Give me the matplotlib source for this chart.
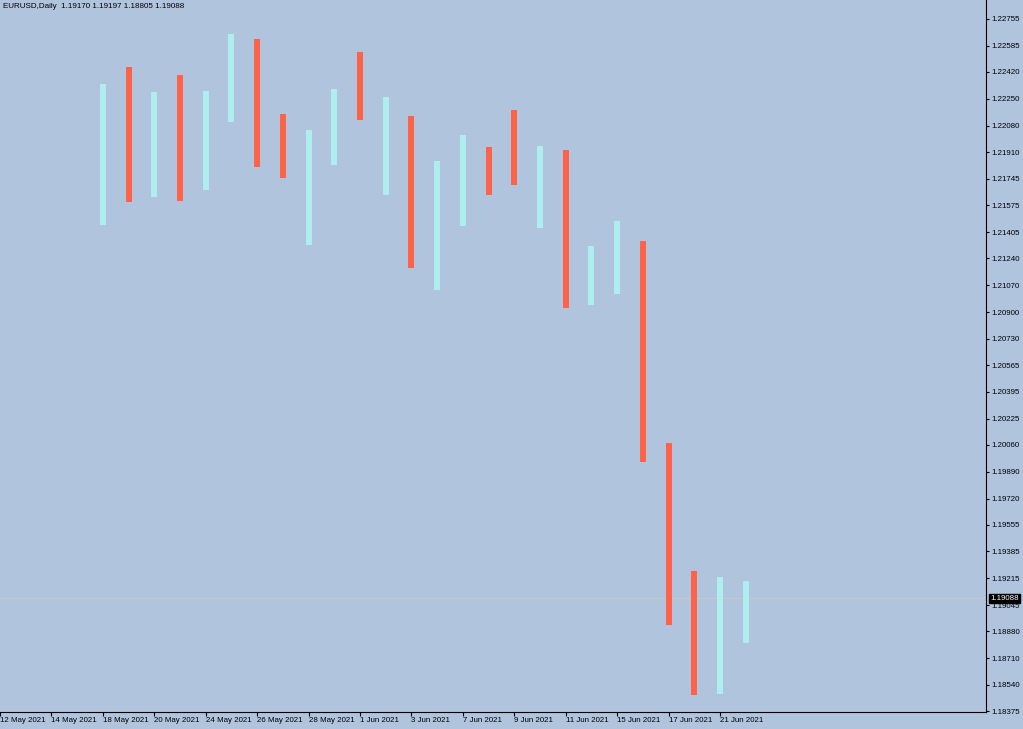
import matplotlib
matplotlib.use("Agg")
import matplotlib.pyplot as plt

# daily EURUSD bars (high/low), 18 May .. 22 Jun 2021
dates = ["18 May", "19 May", "20 May", "21 May", "24 May", "25 May", "26 May", "27 May",
         "28 May", "31 May", "1 Jun", "2 Jun", "3 Jun", "4 Jun", "7 Jun", "8 Jun",
         "9 Jun", "10 Jun", "11 Jun", "14 Jun", "15 Jun", "16 Jun", "17 Jun", "18 Jun",
         "21 Jun", "22 Jun"]
highs = [1.22342, 1.22453, 1.22291, 1.22399, 1.22299, 1.22660, 1.22627, 1.22154,
         1.22052, 1.22312, 1.22546, 1.22263, 1.22141, 1.21856, 1.22019, 1.21945,
         1.22179, 1.21949, 1.21926, 1.21318, 1.21476, 1.21350, 1.20069, 1.19259,
         1.19223, 1.19197]
lows = [1.21451, 1.21597, 1.21628, 1.21603, 1.21675, 1.22101, 1.21818, 1.21751,
        1.21325, 1.21831, 1.22118, 1.21639, 1.21181, 1.21038, 1.21447, 1.21639,
        1.21706, 1.21430, 1.20926, 1.20945, 1.21014, 1.19953, 1.18919, 1.18476,
        1.18483, 1.18805]
# True = bullish (cyan), False = bearish (red)
bull = [True, False, True, False, True, True, False, False, True, True, False, True,
        False, True, True, False, False, True, False, True, True, False, False, False,
        True, True]

# x positions: 12 May 2021 is index 0, the shown bars start at index 4
bar_x = list(range(4, 4 + len(dates)))
xtick_pos = [0, 2, 4, 6, 8, 10, 12, 14, 16, 18, 20, 22, 24, 26, 28]
xtick_labels = ["12 May 2021", "14 May 2021", "18 May 2021", "20 May 2021", "24 May 2021",
                "26 May 2021", "28 May 2021", "1 Jun 2021", "3 Jun 2021", "7 Jun 2021",
                "9 Jun 2021", "11 Jun 2021", "15 Jun 2021", "17 Jun 2021", "21 Jun 2021"]
ytick_labels = ["1.22755", "1.22585", "1.22420", "1.22250", "1.22080", "1.21910", "1.21745",
                "1.21575", "1.21405", "1.21240", "1.21070", "1.20900", "1.20730", "1.20565",
                "1.20395", "1.20225", "1.20060", "1.19890", "1.19720", "1.19555", "1.19385",
                "1.19215", "1.19045", "1.18880", "1.18710", "1.18540", "1.18375"]
last_price = 1.19088
title = "EURUSD,Daily  1.19170 1.19197 1.18805 1.19088"

bg = "#B0C4DE"
up_col = "#AFEEEE"
down_col = "#FF6347"

plt.rcParams['font.family'] = ['Liberation Sans', 'DejaVu Sans']

fig = plt.figure(figsize=(10.23, 7.29), dpi=100, facecolor=bg)
ax = fig.add_axes([0, 1 - 712 / 729, 986 / 1023, 712 / 729])
ax.set_facecolor(bg)

colors = [up_col if b else down_col for b in bull]
ax.vlines(bar_x, lows, highs, colors=colors, linewidth=4.3)

# current price line
ax.axhline(last_price, color="#C8C8C8", linewidth=0.8, zorder=0)

ax.set_xlim(0.025, 38.34)
ax.set_ylim(1.18369, 1.22875)

ax.spines['top'].set_visible(False)
ax.spines['left'].set_visible(False)
ax.spines['right'].set_color('black')
ax.spines['bottom'].set_color('black')

ax.yaxis.tick_right()
ax.set_yticks([float(v) for v in ytick_labels])
ax.set_yticklabels(ytick_labels)
ax.tick_params(axis='y', direction='out', length=2.5, width=0.8, pad=1.5,
               labelsize=5.7, colors='black')

ax.set_xticks(xtick_pos)
ax.set_xticklabels(xtick_labels, ha='left')
ax.tick_params(axis='x', direction='out', length=3, width=0.8, pad=0.5,
               labelsize=5.7, colors='black')

ax.annotate(f"{last_price:.5f}", xy=(1.0, last_price), xycoords=('axes fraction', 'data'),
            xytext=(3, 0), textcoords='offset points', va='center', ha='left',
            fontsize=5.7, color='white',
            bbox=dict(boxstyle='square,pad=0.15', fc='black', ec='black'),
            annotation_clip=False)

fig.text(3 / 1023, 1 - 6 / 729, title, fontsize=5.8, va='center', ha='left', color='black')

fig.savefig("out.png", dpi=100, facecolor=bg)
